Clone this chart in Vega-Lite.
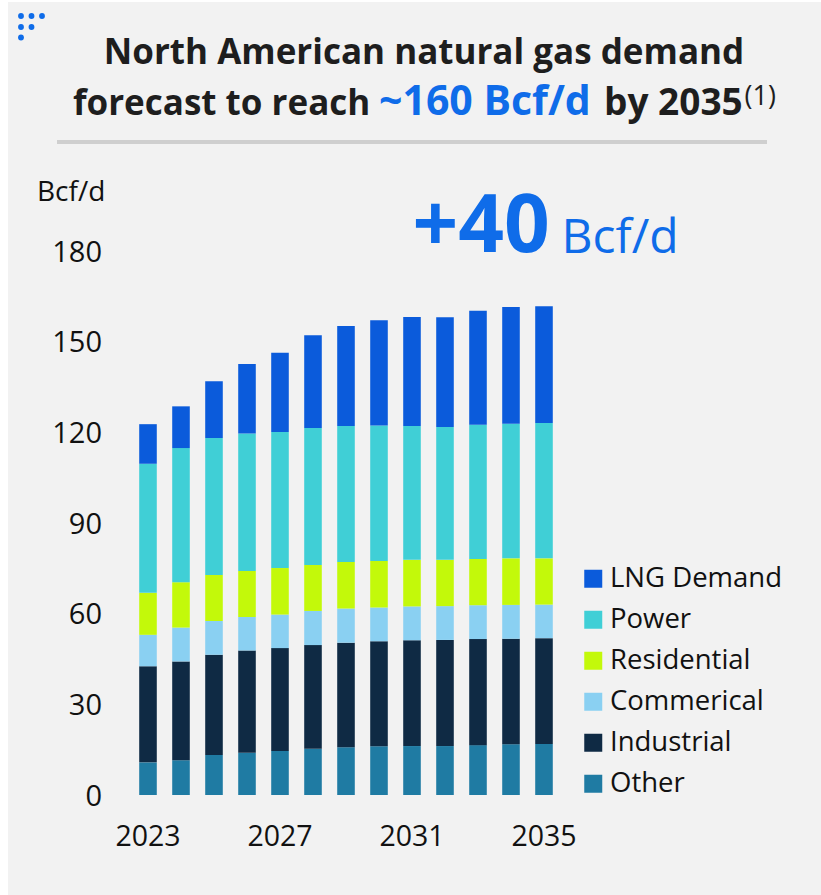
{"$schema":"https://vega.github.io/schema/vega-lite/v6.json","width":429,"height":544,"autosize":"none","padding":{"left":131.5,"top":251,"right":260.5,"bottom":100},"background":"white","config":{"view":{"stroke":null},"font":"Open Sans"},"layer":[
{"data":{"values":[{}]},"mark":{"type":"rect","color":"#f2f2f2"},"encoding":{"x":{"value":-123.5},"x2":{"value":689.5},"y":{"value":-249},"y2":{"value":644}}},
{"data":{"values":[
{"year":2023,"sector":"Other","rank":1,"bcfd":10.8},{"year":2023,"sector":"Industrial","rank":2,"bcfd":31.8},{"year":2023,"sector":"Commerical","rank":3,"bcfd":10.4},{"year":2023,"sector":"Residential","rank":4,"bcfd":13.9},{"year":2023,"sector":"Power","rank":5,"bcfd":42.7},{"year":2023,"sector":"LNG Demand","rank":6,"bcfd":13.1},
{"year":2024,"sector":"Other","rank":1,"bcfd":11.5},{"year":2024,"sector":"Industrial","rank":2,"bcfd":32.7},{"year":2024,"sector":"Commerical","rank":3,"bcfd":11.2},{"year":2024,"sector":"Residential","rank":4,"bcfd":15.0},{"year":2024,"sector":"Power","rank":5,"bcfd":44.4},{"year":2024,"sector":"LNG Demand","rank":6,"bcfd":13.8},
{"year":2025,"sector":"Other","rank":1,"bcfd":13.2},{"year":2025,"sector":"Industrial","rank":2,"bcfd":33.2},{"year":2025,"sector":"Commerical","rank":3,"bcfd":11.2},{"year":2025,"sector":"Residential","rank":4,"bcfd":15.2},{"year":2025,"sector":"Power","rank":5,"bcfd":45.3},{"year":2025,"sector":"LNG Demand","rank":6,"bcfd":18.8},
{"year":2026,"sector":"Other","rank":1,"bcfd":14.0},{"year":2026,"sector":"Industrial","rank":2,"bcfd":33.8},{"year":2026,"sector":"Commerical","rank":3,"bcfd":11.1},{"year":2026,"sector":"Residential","rank":4,"bcfd":15.2},{"year":2026,"sector":"Power","rank":5,"bcfd":45.5},{"year":2026,"sector":"LNG Demand","rank":6,"bcfd":23.0},
{"year":2027,"sector":"Other","rank":1,"bcfd":14.6},{"year":2027,"sector":"Industrial","rank":2,"bcfd":34.0},{"year":2027,"sector":"Commerical","rank":3,"bcfd":11.1},{"year":2027,"sector":"Residential","rank":4,"bcfd":15.4},{"year":2027,"sector":"Power","rank":5,"bcfd":45.0},{"year":2027,"sector":"LNG Demand","rank":6,"bcfd":26.2},
{"year":2028,"sector":"Other","rank":1,"bcfd":15.3},{"year":2028,"sector":"Industrial","rank":2,"bcfd":34.3},{"year":2028,"sector":"Commerical","rank":3,"bcfd":11.3},{"year":2028,"sector":"Residential","rank":4,"bcfd":15.2},{"year":2028,"sector":"Power","rank":5,"bcfd":45.3},{"year":2028,"sector":"LNG Demand","rank":6,"bcfd":30.7},
{"year":2029,"sector":"Other","rank":1,"bcfd":15.8},{"year":2029,"sector":"Industrial","rank":2,"bcfd":34.6},{"year":2029,"sector":"Commerical","rank":3,"bcfd":11.3},{"year":2029,"sector":"Residential","rank":4,"bcfd":15.4},{"year":2029,"sector":"Power","rank":5,"bcfd":45.0},{"year":2029,"sector":"LNG Demand","rank":6,"bcfd":33.1},
{"year":2030,"sector":"Other","rank":1,"bcfd":16.1},{"year":2030,"sector":"Industrial","rank":2,"bcfd":34.8},{"year":2030,"sector":"Commerical","rank":3,"bcfd":11.1},{"year":2030,"sector":"Residential","rank":4,"bcfd":15.4},{"year":2030,"sector":"Power","rank":5,"bcfd":44.9},{"year":2030,"sector":"LNG Demand","rank":6,"bcfd":34.8},
{"year":2031,"sector":"Other","rank":1,"bcfd":16.2},{"year":2031,"sector":"Industrial","rank":2,"bcfd":35.0},{"year":2031,"sector":"Commerical","rank":3,"bcfd":11.2},{"year":2031,"sector":"Residential","rank":4,"bcfd":15.4},{"year":2031,"sector":"Power","rank":5,"bcfd":44.3},{"year":2031,"sector":"LNG Demand","rank":6,"bcfd":36.1},
{"year":2032,"sector":"Other","rank":1,"bcfd":16.2},{"year":2032,"sector":"Industrial","rank":2,"bcfd":35.1},{"year":2032,"sector":"Commerical","rank":3,"bcfd":11.2},{"year":2032,"sector":"Residential","rank":4,"bcfd":15.3},{"year":2032,"sector":"Power","rank":5,"bcfd":44.0},{"year":2032,"sector":"LNG Demand","rank":6,"bcfd":36.3},
{"year":2033,"sector":"Other","rank":1,"bcfd":16.5},{"year":2033,"sector":"Industrial","rank":2,"bcfd":35.1},{"year":2033,"sector":"Commerical","rank":3,"bcfd":11.2},{"year":2033,"sector":"Residential","rank":4,"bcfd":15.3},{"year":2033,"sector":"Power","rank":5,"bcfd":44.4},{"year":2033,"sector":"LNG Demand","rank":6,"bcfd":37.7},
{"year":2034,"sector":"Other","rank":1,"bcfd":16.8},{"year":2034,"sector":"Industrial","rank":2,"bcfd":34.9},{"year":2034,"sector":"Commerical","rank":3,"bcfd":11.2},{"year":2034,"sector":"Residential","rank":4,"bcfd":15.4},{"year":2034,"sector":"Power","rank":5,"bcfd":44.5},{"year":2034,"sector":"LNG Demand","rank":6,"bcfd":38.7},
{"year":2035,"sector":"Other","rank":1,"bcfd":16.9},{"year":2035,"sector":"Industrial","rank":2,"bcfd":35.0},{"year":2035,"sector":"Commerical","rank":3,"bcfd":11.1},{"year":2035,"sector":"Residential","rank":4,"bcfd":15.3},{"year":2035,"sector":"Power","rank":5,"bcfd":44.8},{"year":2035,"sector":"LNG Demand","rank":6,"bcfd":38.6}
]},"mark":{"type":"bar"},"encoding":{
"x":{"field":"year","type":"ordinal","scale":{"paddingInner":0.467,"paddingOuter":0.2335},"axis":{"zindex":1,"title":null,"values":[2023,2027,2031,2035],"labelAngle":0,"ticks":false,"domain":false,"grid":false,"labelFontSize":28.5,"labelColor":"#111111","labelPadding":27,"labelOverlap":false,"labelFont":"Open Sans"}},
"y":{"field":"bcfd","type":"quantitative","stack":"zero","scale":{"domain":[0,180],"nice":false},"axis":{"zindex":1,"title":null,"values":[0,30,60,90,120,150,180],"ticks":false,"domain":false,"grid":false,"labelFontSize":29,"labelColor":"#111111","labelPadding":30,"labelOffset":1,"labelFont":"Open Sans"}},
"order":{"field":"rank","type":"quantitative"},
"color":{"field":"sector","type":"nominal","scale":{"domain":["LNG Demand","Power","Residential","Commerical","Industrial","Other"],"range":["#0b5bdb","#40cfd6","#c3f90a","#8ad0f2","#0f2a44","#1f7ba3"]},"legend":{"title":null,"orient":"none","legendX":448,"legendY":314,"symbolType":"square","symbolSize":324,"symbolStrokeWidth":0,"labelFontSize":27.5,"labelColor":"#111111","labelFont":"Open Sans","rowPadding":12,"labelOffset":3,"labelLimit":260}}
}},
{"mark":{"type":"text","text":"North American natural gas demand","font":"Open Sans","fontWeight":"bold","fontSize":35,"align":"center","baseline":"alphabetic","color":"#1e1e1e"},"encoding":{"x":{"value":292.5},"y":{"value":-187}},"data":{"values":[{}]}},
{"mark":{"type":"text","text":"forecast to reach","font":"Open Sans","fontWeight":"bold","fontSize":35,"align":"left","baseline":"alphabetic","color":"#1e1e1e"},"encoding":{"x":{"value":-58.5},"y":{"value":-136}},"data":{"values":[{}]}},
{"mark":{"type":"text","text":"~160 Bcf/d","font":"Open Sans","fontWeight":"bold","fontSize":41,"align":"left","baseline":"alphabetic","color":"#0f6ce9"},"encoding":{"x":{"value":247.5},"y":{"value":-136}},"data":{"values":[{}]}},
{"mark":{"type":"text","text":"by 2035","font":"Open Sans","fontWeight":"bold","fontSize":37,"align":"left","baseline":"alphabetic","color":"#1e1e1e"},"encoding":{"x":{"value":472.5},"y":{"value":-136}},"data":{"values":[{}]}},
{"mark":{"type":"text","text":"(1)","font":"Open Sans","fontSize":27,"align":"left","baseline":"alphabetic","color":"#1e1e1e"},"encoding":{"x":{"value":613},"y":{"value":-146}},"data":{"values":[{}]}},
{"mark":{"type":"rect","color":"#cfcfcf"},"encoding":{"x":{"value":-74.5},"x2":{"value":635.5},"y":{"value":-111},"y2":{"value":-107}},"data":{"values":[{}]}},
{"mark":{"type":"text","text":"Bcf/d","font":"Open Sans","fontSize":28,"align":"left","baseline":"alphabetic","color":"#111111"},"encoding":{"x":{"value":-94.5},"y":{"value":-50}},"data":{"values":[{}]}},
{"mark":{"type":"text","text":"+40","font":"Open Sans","fontWeight":"bold","fontSize":80,"align":"left","baseline":"alphabetic","color":"#0f6ce9"},"encoding":{"x":{"value":281},"y":{"value":1}},"data":{"values":[{}]}},
{"mark":{"type":"text","text":"Bcf/d","font":"Open Sans","fontSize":48,"align":"left","baseline":"alphabetic","color":"#0f6ce9"},"encoding":{"x":{"value":430},"y":{"value":2}},"data":{"values":[{}]}},
{"mark":{"type":"point","filled":true,"size":34,"color":"#0f6ce9","opacity":1},"encoding":{"x":{"value":-110.5},"y":{"value":-235}},"data":{"values":[{}]}},
{"mark":{"type":"point","filled":true,"size":34,"color":"#0f6ce9","opacity":1},"encoding":{"x":{"value":-100},"y":{"value":-235}},"data":{"values":[{}]}},
{"mark":{"type":"point","filled":true,"size":34,"color":"#0f6ce9","opacity":1},"encoding":{"x":{"value":-89.5},"y":{"value":-235}},"data":{"values":[{}]}},
{"mark":{"type":"point","filled":true,"size":34,"color":"#0f6ce9","opacity":1},"encoding":{"x":{"value":-110.5},"y":{"value":-224}},"data":{"values":[{}]}},
{"mark":{"type":"point","filled":true,"size":34,"color":"#0f6ce9","opacity":1},"encoding":{"x":{"value":-100},"y":{"value":-224}},"data":{"values":[{}]}},
{"mark":{"type":"point","filled":true,"size":34,"color":"#0f6ce9","opacity":1},"encoding":{"x":{"value":-110.5},"y":{"value":-213.5}},"data":{"values":[{}]}}
]}
